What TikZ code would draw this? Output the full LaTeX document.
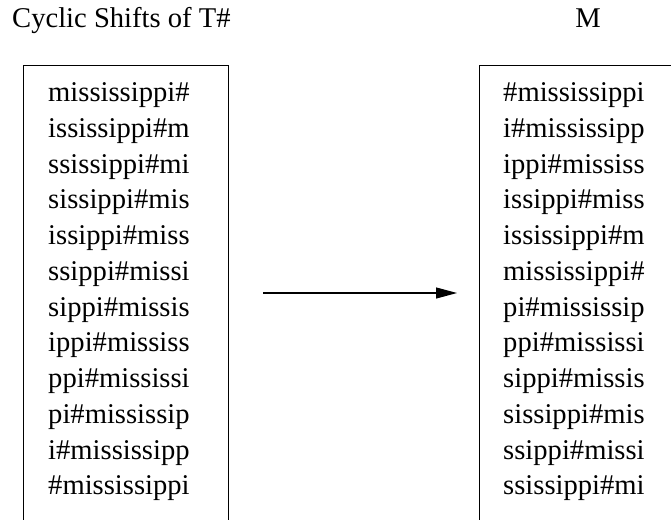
\documentclass[tikz,border=0pt]{standalone}
\usepackage{fontspec}
\setmainfont{Liberation Serif}
\usetikzlibrary{arrows.meta}
\begin{document}
\begin{tikzpicture}[x=1pt,y=-1pt,
  txt/.style={inner sep=0pt,anchor=base west,font=\fontsize{28.6}{34}\selectfont},
  boxframe/.style={draw,line width=1.2pt,inner sep=0pt,anchor=north west},
  conn/.style={line width=1.1pt,-{Triangle[length=21pt,width=11pt]}}]
\useasboundingbox (0,0) rectangle (671,519);
\begin{scope}
\clip (0,0) rectangle (671,519);
\node[boxframe,minimum width=205pt,minimum height=470pt] (L) at (23,65) {};
\node[boxframe,minimum width=205pt,minimum height=470pt] (R) at (479,65) {};
\end{scope}
\node[txt] (t1) at (12,28) {Cyclic Shifts of T\#};
\node[txt,anchor=base] (t2) at (588,28) {M};
\foreach \s [count=\k] in {mississippi\#,ississippi\#m,ssissippi\#mi,sissippi\#mis,issippi\#miss,ssippi\#missi,sippi\#missis,ippi\#mississ,ppi\#mississi,pi\#mississip,i\#mississipp,\#mississippi}
  \node[txt] (l\k) at (48,{101.5+35.75*(\k-1)}) {\s};
\foreach \s [count=\k] in {\#mississippi,i\#mississipp,ippi\#mississ,issippi\#miss,ississippi\#m,mississippi\#,pi\#mississip,ppi\#mississi,sippi\#missis,sissippi\#mis,ssippi\#missi,ssissippi\#mi}
  \node[txt] (r\k) at (503,{101.5+35.75*(\k-1)}) {\s};
\coordinate (a1) at (263,293);
\coordinate (a2) at (457,293);
\draw[conn] (a1) -- (a2);
\end{tikzpicture}
\end{document}
